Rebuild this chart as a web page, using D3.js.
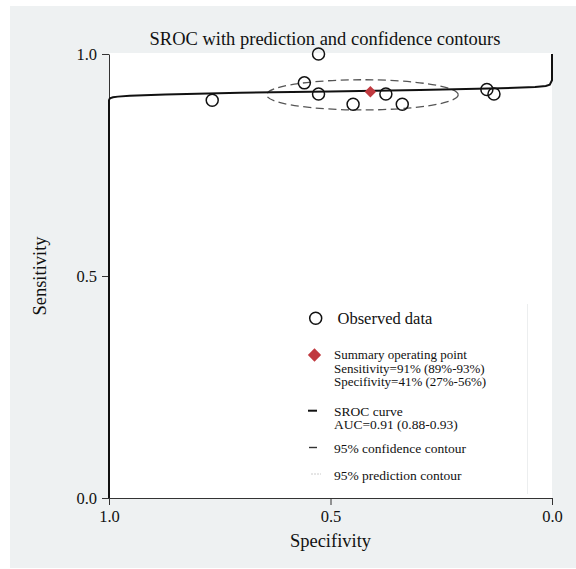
<!DOCTYPE html>
<html>
<head>
<meta charset="utf-8">
<script src="https://cdn.jsdelivr.net/npm/d3@7"></script>
<style>
  body { margin: 0; background: #ffffff; }
  svg { display: block; font-family: "Liberation Serif", "Times New Roman", serif; }
</style>
</head>
<body>
<svg id="chart" width="576" height="569"></svg>
<script>
// observed studies (specificity, sensitivity)
const obsSpec = [0.527, 0.559, 0.527, 0.767, 0.449, 0.375, 0.338, 0.147, 0.131];
const obsSens = [1.000, 0.935, 0.910, 0.896, 0.887, 0.910, 0.887, 0.920, 0.910];

// summary operating point
const summarySpec = [0.41];
const summarySens = [0.915];

// SROC curve
const srocSpec = [1.0, 1.0, 0.998, 0.991, 0.980, 0.953, 0.873, 0.704, 0.501, 0.298, 0.117, 0.038, 0.014, 0.005, 0.0, 0.0];
const srocSens = [0.0, 0.896, 0.900, 0.9025, 0.904, 0.906, 0.909, 0.9126, 0.9155, 0.919, 0.9227, 0.9257, 0.928, 0.931, 0.941, 1.0];

// 95% confidence contour: centre and half-widths
const confCentre = [0.428, 0.908];
const confHalf = [0.2163, 0.034];

const tickValues = [0, 0.5, 1];
const legendLines = [
    ["Observed data"],
    ["Summary operating point", "Sensitivity=91% (89%-93%)", "Specifivity=41% (27%-56%)"],
    ["SROC curve", "AUC=0.91 (0.88-0.93)"],
    ["95% confidence contour"],
    ["95% prediction contour"]
];

const svg = d3.select("#chart");
const margin = {top: 54, right: 24, bottom: 71, left: 109};
const width = 576 - margin.left - margin.right;
const height = 569 - margin.top - margin.bottom;

// grey panel + white plot area
svg.append("rect").attr("x", 10).attr("y", 6).attr("width", 566).attr("height", 562).attr("fill", "#eef1f2");
svg.append("rect").attr("x", margin.left).attr("y", margin.top - 1).attr("width", width).attr("height", height + 1).attr("fill", "#ffffff");

const x = d3.scaleLinear().domain([1, 0]).range([margin.left, margin.left + width]);
const y = d3.scaleLinear().domain([0, 1]).range([margin.top + height, margin.top]);

// faint legend frame edge
svg.append("line")
    .attr("x1", 527.5).attr("x2", 527.5).attr("y1", 304).attr("y2", 494)
    .attr("stroke", "#eceeef").attr("stroke-width", 1);

// axes
const xAxis = svg.append("g")
    .attr("transform", `translate(0,${margin.top + height})`)
    .call(d3.axisBottom(x).tickValues(tickValues).tickFormat(d3.format(".1f")).tickSize(7).tickSizeOuter(0).tickPadding(5));
const yAxis = svg.append("g")
    .attr("transform", `translate(${margin.left},0)`)
    .call(d3.axisLeft(y).tickValues(tickValues).tickFormat(d3.format(".1f")).tickSize(7).tickSizeOuter(0).tickPadding(5));

[xAxis, yAxis].forEach(a => {
    a.select(".domain").attr("stroke", "#333");
    a.selectAll(".tick line").attr("stroke", "#333");
    a.selectAll(".tick text")
        .attr("font-family", "Liberation Serif")
        .attr("font-size", 16.5)
        .attr("fill", "#111");
});

// confidence contour
svg.append("ellipse")
    .attr("cx", x(confCentre[0]))
    .attr("cy", y(confCentre[1]))
    .attr("rx", Math.abs(x(confHalf[0]) - x(0)))
    .attr("ry", Math.abs(y(confHalf[1]) - y(0)))
    .attr("fill", "none")
    .attr("stroke", "#555")
    .attr("stroke-width", 1.3)
    .attr("stroke-dasharray", "8,4.5");

// SROC curve
const line = d3.line()
    .x(d => x(d[0]))
    .y(d => y(d[1]))
    .curve(d3.curveLinear);

svg.append("path")
    .datum(srocSpec.map((s, i) => [s, srocSens[i]]))
    .attr("d", line)
    .attr("fill", "none")
    .attr("stroke", "#111")
    .attr("stroke-width", 2);

// observed data circles
svg.selectAll(".obs")
    .data(obsSpec.map((s, i) => [s, obsSens[i]]))
    .enter().append("circle")
    .attr("class", "obs")
    .attr("cx", d => x(d[0]))
    .attr("cy", d => y(d[1]))
    .attr("r", 6)
    .attr("fill", "none")
    .attr("stroke", "#111")
    .attr("stroke-width", 1.5);

// summary point
svg.selectAll(".summary")
    .data(summarySpec.map((s, i) => [s, summarySens[i]]))
    .enter().append("path")
    .attr("class", "summary")
    .attr("transform", d => `translate(${x(d[0])},${y(d[1])}) rotate(45)`)
    .attr("d", d3.symbol().type(d3.symbolSquare).size(66))
    .attr("fill", "#c0393f");

// title and axis labels
svg.append("text")
    .attr("x", 325).attr("y", 45)
    .attr("text-anchor", "middle")
    .attr("font-size", 18.5)
    .attr("fill", "#111")
    .text("SROC with prediction and confidence contours");

svg.append("text")
    .attr("x", x(0.5)).attr("y", 547)
    .attr("text-anchor", "middle")
    .attr("font-size", 18.5)
    .attr("fill", "#111")
    .text("Specifivity");

svg.append("text")
    .attr("transform", `translate(46,${y(0.5)}) rotate(-90)`)
    .attr("text-anchor", "middle")
    .attr("font-size", 18.5)
    .attr("fill", "#111")
    .text("Sensitivity");

// legend
const legend = svg.append("g").attr("fill", "#111");
legend.append("circle")
    .attr("cx", 315.7).attr("cy", 318.3).attr("r", 6)
    .attr("fill", "none").attr("stroke", "#111").attr("stroke-width", 1.5);
legend.append("text")
    .attr("x", 337.5).attr("y", 323.5)
    .attr("font-size", 16.5)
    .text(legendLines[0][0]);

legend.append("path")
    .attr("transform", "translate(314.5,355) rotate(45)")
    .attr("d", d3.symbol().type(d3.symbolSquare).size(88))
    .attr("fill", "#c0393f");

const smallRows = [
    {lines: legendLines[1], y0: 358.8, size: 13},
    {lines: legendLines[2], y0: 415.5, size: 13.5},
    {lines: legendLines[3], y0: 452.8, size: 13.5},
    {lines: legendLines[4], y0: 479.5, size: 13.5}
];
smallRows.forEach(r => {
    r.lines.forEach((t, i) => {
        legend.append("text")
            .attr("x", 334).attr("y", r.y0 + i * 13.7)
            .attr("font-size", r.size)
            .text(t);
    });
});

legend.append("line")
    .attr("x1", 308).attr("x2", 317).attr("y1", 410.7).attr("y2", 410.7)
    .attr("stroke", "#111").attr("stroke-width", 2);
legend.append("line")
    .attr("x1", 309).attr("x2", 317).attr("y1", 447.5).attr("y2", 447.5)
    .attr("stroke", "#333").attr("stroke-width", 1.4);
legend.append("line")
    .attr("x1", 311.5).attr("x2", 321).attr("y1", 474).attr("y2", 474)
    .attr("stroke", "#999").attr("stroke-width", 1).attr("stroke-dasharray", "1,2");
</script>
</body>
</html>
